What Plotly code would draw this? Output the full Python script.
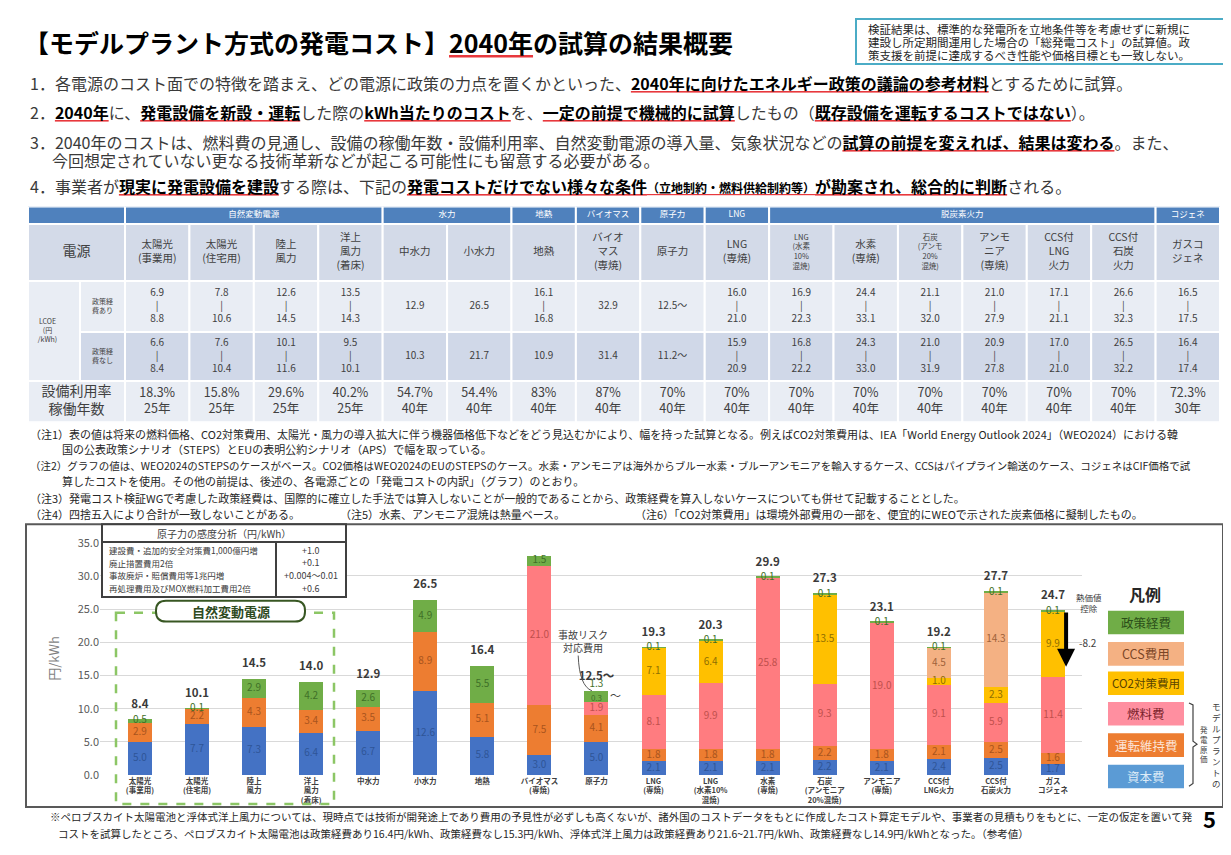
import plotly.graph_objects as go

W, H = 1231, 855
def px(x): return x / W
def py(y): return 1 - y / H

FONT = "Noto Sans CJK JP, Noto Sans, sans-serif"
RED = "#E8383D"
DARK = "#404040"

# ---------------- table data ----------------
groups = ["自然変動電源", "水力", "地熱", "バイオマス", "原子力", "LNG", "脱炭素火力", "コジェネ"]
group_sizes = [4, 2, 1, 1, 1, 1, 6, 1]
tbl_names = ["太陽光<br>(事業用)", "太陽光<br>(住宅用)", "陸上<br>風力", "洋上<br>風力<br>(着床)", "中水力", "小水力",
             "地熱", "バイオ<br>マス<br>(専焼)", "原子力", "LNG<br>(専焼)", "LNG<br>(水素<br>10%<br>混焼)", "水素<br>(専焼)",
             "石炭<br>(アンモ<br>20%<br>混焼)", "アンモ<br>ニア<br>(専焼)", "CCS付<br>LNG<br>火力", "CCS付<br>石炭<br>火力", "ガスコ<br>ジェネ"]
lcoe_with_lo = ["6.9", "7.8", "12.6", "13.5", "12.9", "26.5", "16.1", "32.9", "12.5〜", "16.0", "16.9", "24.4", "21.1", "21.0", "17.1", "26.6", "16.5"]
lcoe_with_hi = ["8.8", "10.6", "14.5", "14.3", None, None, "16.8", None, None, "21.0", "22.3", "33.1", "32.0", "27.9", "21.1", "32.3", "17.5"]
lcoe_wo_lo = ["6.6", "7.6", "10.1", "9.5", "10.3", "21.7", "10.9", "31.4", "11.2〜", "15.9", "16.8", "24.3", "21.0", "20.9", "17.0", "26.5", "16.4"]
lcoe_wo_hi = ["8.4", "10.4", "11.6", "10.1", None, None, None, None, None, "20.9", "22.2", "33.0", "31.9", "27.8", "21.0", "32.2", "17.4"]
util_rate = ["18.3%", "15.8%", "29.6%", "40.2%", "54.7%", "54.4%", "83%", "87%", "70%", "70%", "70%", "70%", "70%", "70%", "70%", "70%", "72.3%"]
life_years = [25, 25, 25, 25, 40, 40, 40, 40, 40, 40, 40, 40, 40, 40, 40, 40, 30]

# ---------------- chart data ----------------
categories = ["太陽光<br>(事業用)", "太陽光<br>(住宅用)", "陸上<br>風力", "洋上<br>風力<br>(着床)", "中水力", "小水力", "地熱",
              "バイオマス<br>(専焼)", "原子力", "LNG<br>(専焼)", "LNG<br>(水素10%<br>混焼)", "水素<br>(専焼)",
              "石炭<br>(アンモニア<br>20%混焼)", "アンモニア<br>(専焼)", "CCS付<br>LNG火力", "CCS付<br>石炭火力", "ガス<br>コジェネ"]
capital = [5.0, 7.7, 7.3, 6.4, 6.7, 12.6, 5.8, 3.0, 5.0, 2.1, 2.1, 2.1, 2.2, 2.1, 2.4, 2.5, 1.7]
om_cost = [2.9, 2.2, 4.3, 3.4, 3.5, 8.9, 5.1, 7.5, 4.1, 1.8, 1.8, 1.8, 2.2, 1.8, 2.1, 2.5, 1.6]
fuel = [0, 0, 0, 0, 0, 0, 0, 21.0, 1.9, 8.1, 9.9, 25.8, 9.3, 19.0, 9.1, 5.9, 11.4]
accident = [0, 0, 0, 0, 0, 0, 0, 0, 0.3, 0, 0, 0, 0, 0, 0, 0, 0]
co2_cost = [0, 0, 0, 0, 0, 0, 0, 0, 0, 7.1, 6.4, 0, 13.5, 0, 1.0, 2.3, 9.9]
ccs_cost = [0, 0, 0, 0, 0, 0, 0, 0, 0, 0, 0, 0, 0, 0, 4.5, 14.3, 0]
policy = [0.5, 0.1, 2.9, 4.2, 2.6, 4.9, 5.5, 1.5, 1.3, 0.1, 0.1, 0.1, 0.1, 0.1, 0.1, 0.1, 0.1]
totals = ["8.4", "10.1", "14.5", "14.0", "12.9", "26.5", "16.4", "32.9", "12.5〜", "19.3", "20.3", "29.9", "27.3", "23.1", "19.2", "27.7", "24.7"]
heat_credit = "-8.2"

sens_items = ["建設費・追加的安全対策費1,000億円増", "廃止措置費用2倍", "事故廃炉・賠償費用等1兆円増", "再処理費用及びMOX燃料加工費用2倍"]
sens_values = ["+1.0", "+0.1", "+0.004〜0.01", "+0.6"]

legend_items = ["政策経費", "CCS費用", "CO2対策費用", "燃料費", "運転維持費", "資本費"]

fig = go.Figure()
shapes = []
ann = []

def U(s):
    return ("<span style='text-decoration:underline;fill:%s'><span style='fill:#000000'><b>%s</b></span></span>" % (RED, s))

def text(x, y, s, size=11, color=DARK, xanchor="left", yanchor="middle", **kw):
    ann.append(dict(x=px(x), y=py(y), xref="paper", yref="paper", text=s, showarrow=False,
                    xanchor=xanchor, yanchor=yanchor, font=dict(size=size, color=color, family=FONT), **kw))

# ---------------- header texts ----------------
text(14, 25, "<b>【モデルプラント方式の発電コスト】" + U("2040年") + "の試算の結果概要</b>", size=25, color="#000000")
shapes.append(dict(type="rect", xref="paper", yref="paper", x0=px(848), x1=px(1225), y0=py(2), y1=py(48),
                   line=dict(color="#4BACC6", width=2), fillcolor="white"))
for yy, s in zip([12.5, 25.5, 38.5], ["検証結果は、標準的な発電所を立地条件等を考慮せずに新規に",
                                      "建設し所定期間運用した場合の「総発電コスト」の試算値。政",
                                      "策支援を前提に達成するべき性能や価格目標とも一致しない。"]):
    text(858, yy, s, size=11.5, color="#262626")

L1 = "1．各電源のコスト面での特徴を踏まえ、どの電源に政策の力点を置くかといった、" + U("2040年に向けたエネルギー政策の議論の参考材料") + "とするために試算。"
L2 = ("2．" + U("2040年") + "に、" + U("発電設備を新設・運転") + "した際の" + U("kWh当たりのコスト") + "を、" +
      U("一定の前提で機械的に試算") + "したもの（" + U("既存設備を運転するコストではない") + "）。")
L3a = "3．2040年のコストは、燃料費の見通し、設備の稼働年数・設備利用率、自然変動電源の導入量、気象状況などの" + U("試算の前提を変えれば、結果は変わる") + "。また、"
L3b = "今回想定されていない更なる技術革新などが起こる可能性にも留意する必要がある。"
L4 = ("4．事業者が" + U("現実に発電設備を建設") + "する際は、下記の" +
      U("発電コストだけでない様々な条件<span style='font-size:12px'>（立地制約・燃料供給制約等）</span>が勘案され、総合的に判断") + "される。")
for yy, s, x0 in [(67, L1, 20), (97, L2, 20), (127, L3a, 20), (146, L3b, 42), (172, L4, 20)]:
    text(x0, yy, s, size=16, color="#3A3A3A")

# ---------------- table (drawn on its own hidden axes) ----------------
TX0, TXB = -1.506, -0.699
R = dict(band=(0, 18), hdr=(18, 76), r1=(76, 128), r2=(128, 178), util=(178, 220))
C_BAND, C_HDR, C_LIGHT, C_DARK = "#4F81BD", "#D3DAE8", "#E9EDF4", "#D0D8E8"

def cell(x0, x1, rk, fill, rk2=None):
    y0 = R[rk][0]
    y1 = R[rk2 or rk][1]
    shapes.append(dict(type="rect", xref="x2", yref="y2", x0=x0, x1=x1, y0=y0, y1=y1,
                       fillcolor=fill, line=dict(color="white", width=2), layer="below"))

cell(TX0, 0, "band", C_BAND)
start = 0
gx = []
for g, n in zip(groups, group_sizes):
    cell(start, start + n, "band", C_BAND)
    gx.append(start + n / 2)
    start += n
cell(TX0, 0, "hdr", C_HDR)
cell(TX0, TXB, "r1", C_LIGHT, "r2")
cell(TXB, 0, "r1", C_LIGHT)
cell(TXB, 0, "r2", C_DARK)
cell(TX0, 0, "util", C_LIGHT)
for i in range(len(tbl_names)):
    cell(i, i + 1, "hdr", C_HDR)
    cell(i, i + 1, "r1", C_LIGHT)
    cell(i, i + 1, "r2", C_DARK)
    cell(i, i + 1, "util", C_LIGHT)

def tscatter(xs, ys, txt, size, color=DARK):
    fig.add_trace(go.Scatter(x=xs, y=ys, mode="text", text=txt, xaxis="x2", yaxis="y2",
                             textfont=dict(size=size, color=color, family=FONT), textposition="middle center",
                             showlegend=False, hoverinfo="skip", cliponaxis=False))

cols = [i + 0.5 for i in range(len(tbl_names))]
tscatter(gx, [9] * len(gx), groups, 8.5, "white")
tscatter(cols, [47] * len(cols), tbl_names, [7.5 if n.count("<br>") >= 3 and n.startswith(("LNG", "石炭")) else 10.5 for n in tbl_names])
v1 = [lo if hi is None else f"{lo}<br>|<br>{hi}" for lo, hi in zip(lcoe_with_lo, lcoe_with_hi)]
v2 = [lo if hi is None else f"{lo}<br>|<br>{hi}" for lo, hi in zip(lcoe_wo_lo, lcoe_wo_hi)]
tscatter(cols, [102] * len(cols), v1, 10)
tscatter(cols, [153] * len(cols), v2, 10)
tscatter(cols, [199] * len(cols), [f"{u}<br>{y}年" for u, y in zip(util_rate, life_years)], 12.5)
tscatter([TX0 / 2], [47], ["電源"], 14)
tscatter([(TX0 + TXB) / 2 - 0.1], [127], ["LCOE<br>(円<br>/kWh)"], 7)
tscatter([TXB / 2], [102], ["政策経<br>費あり"], 7)
tscatter([TXB / 2], [153], ["政策経<br>費なし"], 7)
tscatter([TX0 / 2], [199], ["設備利用率<br>稼働年数"], 14)

# ---------------- notes ----------------
NOTE = "#262626"
notes = [
    (20, 425, 11, "（注1）表の値は将来の燃料価格、CO2対策費用、太陽光・風力の導入拡大に伴う機器価格低下などをどう見込むかにより、幅を持った試算となる。例えばCO2対策費用は、IEA「World Energy Outlook 2024」（WEO2024）における韓"),
    (52, 440, 11, "国の公表政策シナリオ（STEPS）とEUの表明公約シナリオ（APS）で幅を取っている。"),
    (20, 457, 10.5, "（注2）グラフの値は、WEO2024のSTEPSのケースがベース。CO2価格はWEO2024のEUのSTEPSのケース。水素・アンモニアは海外からブルー水素・ブルーアンモニアを輸入するケース、CCSはパイプライン輸送のケース、コジェネはCIF価格で試"),
    (52, 473, 11, "算したコストを使用。その他の前提は、後述の、各電源ごとの「発電コストの内訳」（グラフ）のとおり。"),
    (20, 490, 11, "（注3）発電コスト検証WGで考慮した政策経費は、国際的に確立した手法では算入しないことが一般的であることから、政策経費を算入しないケースについても併せて記載することとした。"),
    (20, 506, 11, "（注4）四捨五入により合計が一致しないことがある。"),
    (330, 506, 11, "（注5）水素、アンモニア混焼は熱量ベース。"),
    (625, 506, 11, "（注6）「CO2対策費用」は環境外部費用の一部を、便宜的にWEOで示された炭素価格に擬制したもの。"),
]
for x0, yy, sz, s in notes:
    text(x0, yy, s, size=sz, color=NOTE)

# ---------------- chart ----------------
shapes.append(dict(type="rect", xref="paper", yref="paper", x0=px(18), x1=px(1215), y0=py(517), y1=py(805),
                   line=dict(color="#595959", width=2), fillcolor="rgba(0,0,0,0)"))

xs = list(range(len(categories)))
series = [
    ("資本費", capital, "#4472C4", "#2F5597"),
    ("運転維持費", om_cost, "#ED7D31", "#A9541D"),
    ("燃料費", fuel, "#FF7C80", "#C0504D"),
    ("事故リスク対応費用", accident, "#70AD47", "#3F7027"),
    ("CO2対策費用", co2_cost, "#FFC000", "#8F6F00"),
    ("CCS費用", ccs_cost, "#F4B183", "#A0623A"),
    ("政策経費", policy, "#70AD47", "#3F7027"),
]
base = [0.0] * len(xs)
label_traces = []
for name, vals, col, tcol in series:
    fig.add_trace(go.Bar(x=xs, y=vals, name=name, marker=dict(color=col, line=dict(width=0)),
                         width=0.42, showlegend=False, hoverinfo="skip"))
    lx, ly, lt = [], [], []
    for i, v in enumerate(vals):
        if v > 0:
            lx.append(i)
            if name == "政策経費" and accident[i] > 0:
                ly.append(base[i] + v + 1.0)
            elif name == "事故リスク対応費用":
                ly.append(base[i] + v / 2 + 0.35)
            else:
                ly.append(base[i] + v / 2)
            lt.append(f"{v:.1f}")
        base[i] += v
    label_traces.append(go.Scatter(x=lx, y=ly, mode="text", text=lt, textposition="middle center",
                                   textfont=dict(size=8 if name == "事故リスク対応費用" else 10, color=tcol, family=FONT),
                                   showlegend=False, hoverinfo="skip", cliponaxis=False))
for t in label_traces:
    fig.add_trace(t)
fig.add_trace(go.Scatter(x=xs, y=[b + 2.2 for b in base], mode="text", text=[f"<b>{t}</b>" for t in totals],
                         textposition="middle center",
                         textfont=dict(size=11.5, color="#3A3A3A", family=FONT),
                         showlegend=False, hoverinfo="skip", cliponaxis=False))

# nuclear extras
nuc = 8
ann.append(dict(x=nuc + 0.33, y=base[nuc] - 0.5, xref="x", yref="y", text="〜", showarrow=False,
                font=dict(size=11, color=DARK, family=FONT)))
ann.append(dict(x=7.76, y=20.2, xref="x", yref="y", text="事故リスク<br>対応費用", showarrow=False,
                font=dict(size=10, color=DARK, family=FONT)))
shapes.append(dict(type="path", xref="x", yref="y", path="M 7.68,18.0 Q 7.70,13.4 7.92,12.7",
                   line=dict(color="#595959", width=1)))

# cogeneration heat credit arrow
cg = 16
ann.append(dict(x=cg + 0.23, y=16.3, ax=cg + 0.23, ay=base[cg], xref="x", yref="y", axref="x", ayref="y",
                text="", showarrow=True, arrowhead=2, arrowsize=0.9, arrowwidth=4, arrowcolor="#000000"))
text(1081, 597, "熱価値<br>控除", size=8.5, color=DARK, xanchor="center")
text(1080, 637, heat_credit, size=10, color=DARK, xanchor="center")

text(46, 654, "円/kWh", size=13, color="#7F7F7F", xanchor="center", textangle=-90)

# natural variable box
shapes.append(dict(type="rect", xref="paper", yref="paper", x0=px(108), x1=px(326), y0=py(607), y1=py(802),
                   line=dict(color="#8CC665", width=2.5, dash="dash")))

def rounded(x0, y0, x1, y1, r):
    def P(x, y): return f"{px(x):.5f},{py(y):.5f}"
    return (f"M {P(x0 + r, y0)} L {P(x1 - r, y0)} Q {P(x1, y0)} {P(x1, y0 + r)} L {P(x1, y1 - r)} "
            f"Q {P(x1, y1)} {P(x1 - r, y1)} L {P(x0 + r, y1)} Q {P(x0, y1)} {P(x0, y1 - r)} "
            f"L {P(x0, y0 + r)} Q {P(x0, y0)} {P(x0 + r, y0)} Z")

shapes.append(dict(type="path", xref="paper", yref="paper", path=rounded(148, 595, 297, 616, 10),
                   fillcolor="white", line=dict(color="#385723", width=2)))
text(222.5, 605.5, "<b>自然変動電源</b>", size=13, color="#2E4A1E", xanchor="center")

# sensitivity box
shapes.append(dict(type="rect", xref="paper", yref="paper", x0=px(94), x1=px(338), y0=py(517), y1=py(591),
                   fillcolor="white", line=dict(color="#404040", width=2)))
shapes.append(dict(type="line", xref="paper", yref="paper", x0=px(94), x1=px(338), y0=py(535), y1=py(535),
                   line=dict(color="#404040", width=2)))
shapes.append(dict(type="line", xref="paper", yref="paper", x0=px(268), x1=px(268), y0=py(535), y1=py(591),
                   line=dict(color="#404040", width=2)))
text(216, 526, "原子力の感度分析（円/kWh）", size=10, color=DARK, xanchor="center")
for k, (s, v) in enumerate(zip(sens_items, sens_values)):
    yy = 543.5 + k * 12.8
    text(99, yy, s, size=8.5, color=DARK)
    text(303, yy, v, size=9, color=DARK, xanchor="center")

# legend
text(1137, 588, "<b>凡例</b>", size=16, color="#262626", xanchor="center")
leg_fill = ["#70AD47", "#F4B183", "#FFC000", "#FF8FA0", "#ED7D31", "#5B9BD5"]
leg_txt = ["#2B4F19", "#7A4526", "#5A4400", "#7A1F2B", "#FCE4D6", "#DDEBF7"]
leg_y = [605, 637, 667, 698, 730, 762]
for s, f, tc, y0 in zip(legend_items, leg_fill, leg_txt, leg_y):
    shapes.append(dict(type="rect", xref="paper", yref="paper", x0=px(1100), x1=px(1176), y0=py(y0), y1=py(y0 + 24),
                       fillcolor=f, line=dict(width=0)))
    text(1138, y0 + 12, s, size=12.5 if len(s) < 7 else 11.5, color=tc, xanchor="center")
brk = " ".join([f"{'M' if j == 0 else 'L'} {px(a):.5f},{py(b):.5f}" for j, (a, b) in enumerate(
    [(1181, 699), (1185, 701), (1185, 738), (1189, 741), (1185, 744), (1185, 781), (1181, 784)])])
shapes.append(dict(type="path", xref="paper", yref="paper", path=brk, line=dict(color="#404040", width=1.2)))
text(1196, 741, "<br>".join("発電原価"), size=7.5, color=DARK, xanchor="center")
text(1208, 741, "<br>".join("モデルプラントの"), size=8.5, color=DARK, xanchor="center")

# bottom footnote
text(40, 815, "※ペロブスカイト太陽電池と浮体式洋上風力については、現時点では技術が開発途上であり費用の予見性が必ずしも高くないが、諸外国のコストデータをもとに作成したコスト算定モデルや、事業者の見積もりをもとに、一定の仮定を置いて発",
     size=10.5, color=NOTE)
text(48, 832, "コストを試算したところ、ペロブスカイト太陽電池は政策経費あり16.4円/kWh、政策経費なし15.3円/kWh、浮体式洋上風力は政策経費あり21.6~21.7円/kWh、政策経費なし14.9円/kWhとなった。（参考値）",
     size=10.5, color=NOTE)
text(1201, 816, "<b>5</b>", size=22, color="#000000", xanchor="center")

fig.update_layout(
    width=W, height=H, margin=dict(l=0, r=0, t=0, b=0),
    paper_bgcolor="white", plot_bgcolor="rgba(0,0,0,0)",
    font=dict(family=FONT, color=DARK),
    barmode="stack", showlegend=False,
    xaxis=dict(domain=[px(92), px(1073.5)], range=[-0.7, 16.5], tickvals=xs,
               ticktext=[f"<b>{c}</b>" for c in categories], tickfont=dict(size=7.5, color=DARK),
               showgrid=False, zeroline=False, showline=False, ticks="", anchor="y", fixedrange=True),
    yaxis=dict(domain=[py(772.5), py(535.4)], range=[0, 35.05], dtick=5, tickformat=".1f",
               gridcolor="#D9D9D9", gridwidth=1, tickfont=dict(size=11, color="#595959"),
               zeroline=False, showline=False, anchor="x", fixedrange=True),
    xaxis2=dict(domain=[px(20), px(1212)], range=[TX0, 17], visible=False, anchor="y2", fixedrange=True),
    yaxis2=dict(domain=[py(413), py(193)], range=[220, 0], visible=False, anchor="x2", fixedrange=True),
    shapes=shapes, annotations=ann,
)

fig.write_html("out.html")
